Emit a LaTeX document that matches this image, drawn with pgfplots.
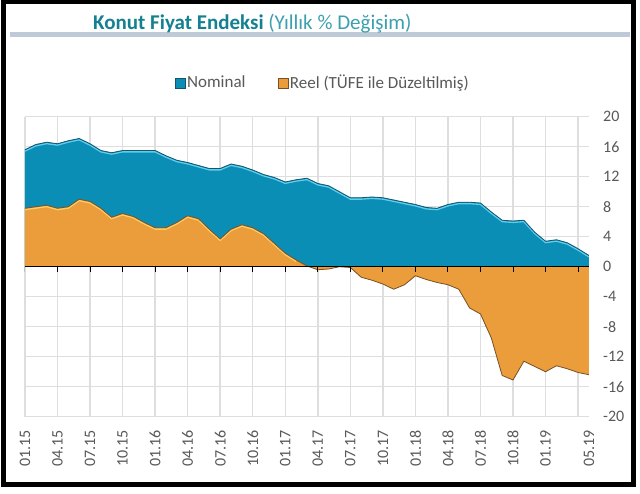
\documentclass[border=0pt]{standalone}
\usepackage{fontspec}
\setmainfont{Carlito}
\usepackage{pgfplots}
\pgfplotsset{compat=1.18}
\usepackage{pgfplotstable}

\definecolor{blueF}{RGB}{10,142,182}
\definecolor{blueEdge}{RGB}{20,85,110}
\definecolor{blueHL}{RGB}{95,205,235}
\definecolor{orangeF}{RGB}{234,157,58}
\definecolor{orangeEdge}{RGB}{120,80,35}
\definecolor{orangeHL}{RGB}{250,205,105}
\definecolor{gridcol}{RGB}{222,222,222}
\definecolor{labelgray}{RGB}{89,89,89}
\definecolor{titlecol}{RGB}{20,128,145}
\definecolor{titlecolB}{RGB}{60,160,175}
\definecolor{bandcol}{RGB}{190,203,215}

\pgfplotstableread{
m v
0 15.6
1 16.3
2 16.6
3 16.4
4 16.8
5 17.1
6 16.4
7 15.5
8 15.2
9 15.5
10 15.5
11 15.5
12 15.5
13 14.8
14 14.2
15 13.9
16 13.5
17 13.1
18 13.1
19 13.7
20 13.4
21 12.9
22 12.3
23 11.9
24 11.3
25 11.6
26 11.8
27 11.1
28 10.8
29 10.0
30 9.2
31 9.2
32 9.3
33 9.2
34 8.9
35 8.6
36 8.3
37 7.9
38 7.8
39 8.3
40 8.6
41 8.6
42 8.5
43 7.3
44 6.2
45 6.1
46 6.2
47 4.6
48 3.4
49 3.6
50 3.2
51 2.4
52 1.5
}\nominal

\pgfplotstableread{
m v
0 7.8
1 8.0
2 8.2
3 7.8
4 8.0
5 9.0
6 8.7
7 7.8
8 6.6
9 7.1
10 6.7
11 5.9
12 5.2
13 5.2
14 5.9
15 6.8
16 6.4
17 5.0
18 3.7
19 5.0
20 5.6
21 5.2
22 4.4
23 3.1
24 1.8
25 0.9
26 0.1
27 -0.4
28 -0.3
29 0.0
30 -0.1
31 -1.4
32 -1.8
33 -2.3
34 -3.0
35 -2.4
36 -1.2
37 -1.7
38 -2.1
39 -2.4
40 -3.0
41 -5.5
42 -6.3
43 -9.5
44 -14.5
45 -15.1
46 -12.6
47 -13.3
48 -14.0
49 -13.2
50 -13.6
51 -14.1
52 -14.4
}\reel

\pgfplotstableread{
m v
0 7.8
1 8.0
2 8.2
3 7.8
4 8.0
5 9.0
6 8.7
7 7.8
8 6.6
9 7.1
10 6.7
11 5.9
12 5.2
13 5.2
14 5.9
15 6.8
16 6.4
17 5.0
18 3.7
19 5.0
20 5.6
21 5.2
22 4.4
23 3.1
24 1.8
25 0.9
}\reelpos

\begin{document}
\begin{tikzpicture}[x=1pt,y=1pt]
\useasboundingbox (0,0) rectangle (640,494);
\fill[white] (0,0) rectangle (640,494);
\fill[bandcol] (10,457) rectangle (630,462);
\node[anchor=base west, inner sep=0pt, font=\fontsize{21}{24}\selectfont] at (93,464)
  {\textcolor{titlecol}{\bfseries Konut Fiyat Endeksi} \textcolor{titlecolB}{(Yıllık \% Değişim)}};
\begin{axis}[
  at={(23,103)}, anchor=south west,
  width=564pt, height=300pt, scale only axis,
  xmin=0, xmax=52, ymin=-20, ymax=20,
  axis line style={draw=none},
  tick style={draw=none},
  grid=major,
  grid style={draw=gridcol, line width=1.5pt},
  xtick={0,3,...,51},
  xticklabels={01.15,04.15,07.15,10.15,01.16,04.16,07.16,10.16,01.17,04.17,07.17,10.17,01.18,04.18,07.18,10.18,01.19,{}},
  extra x ticks={52}, extra x tick labels={05.19},
  extra x tick style={grid=none},
  xticklabel style={rotate=90, anchor=east, inner xsep=13pt, inner ysep=0pt, text=labelgray, font=\fontsize{16}{18}\selectfont},
  ytick={-20,-16,...,20},
  yticklabels={-20,-16,-12,-8,-4,0,4,8,12,16,20},
  yticklabel pos=right,
  yticklabel style={anchor=west, inner sep=0pt, text=labelgray, font=\fontsize{16}{18}\selectfont},
  yticklabel shift=14pt,
  legend style={at={(0.528,1.113)}, anchor=center, draw=none, fill=none,
    legend columns=2, font=\fontsize{17}{20}\selectfont, text=labelgray,
    /tikz/every even column/.append style={column sep=30pt}},
  legend cell align=left,
]
\addplot[fill=blueF, draw=none,
  legend image code/.code={\draw[draw=blueEdge, fill=blueF, line width=0.4pt] (0pt,-5pt) rectangle (10pt,5pt);}]
  table[x=m,y=v]{\nominal} \closedcycle;
\addlegendentry{Nominal}
\addplot[draw=blueHL, line width=1.3pt, transform canvas={yshift=-1.4pt}, forget plot] table[x=m,y=v]{\nominal};
\addplot[draw=blueEdge, line width=0.8pt, forget plot] table[x=m,y=v]{\nominal};
\addplot[fill=orangeF, draw=none,
  legend image code/.code={\draw[draw=orangeEdge, fill=orangeF, line width=0.4pt] (0pt,-5pt) rectangle (10pt,5pt);}]
  table[x=m,y=v]{\reel} \closedcycle;
\addlegendentry{Reel (TÜFE ile Düzeltilmiş)}
\addplot[draw=orangeHL, line width=1.3pt, transform canvas={yshift=-1.4pt}, forget plot] table[x=m,y=v]{\reelpos};
\addplot[draw=orangeEdge, line width=0.8pt, forget plot] table[x=m,y=v]{\reel};
\addplot[black, line width=1.5pt, forget plot] coordinates {(0,0) (52,0)};
\addplot[black, line width=1pt, ycomb, no marks, forget plot] coordinates {
(0,-0.7) (3,-0.7) (6,-0.7) (9,-0.7) (12,-0.7) (15,-0.7) (18,-0.7) (21,-0.7) (24,-0.7)
(27,-0.7) (30,-0.7) (33,-0.7) (36,-0.7) (39,-0.7) (42,-0.7) (45,-0.7) (48,-0.7) (51,-0.7)};
\end{axis}
\draw[black, line width=5pt] (3.5,492) rectangle (633.5,9);
\end{tikzpicture}
\end{document}
